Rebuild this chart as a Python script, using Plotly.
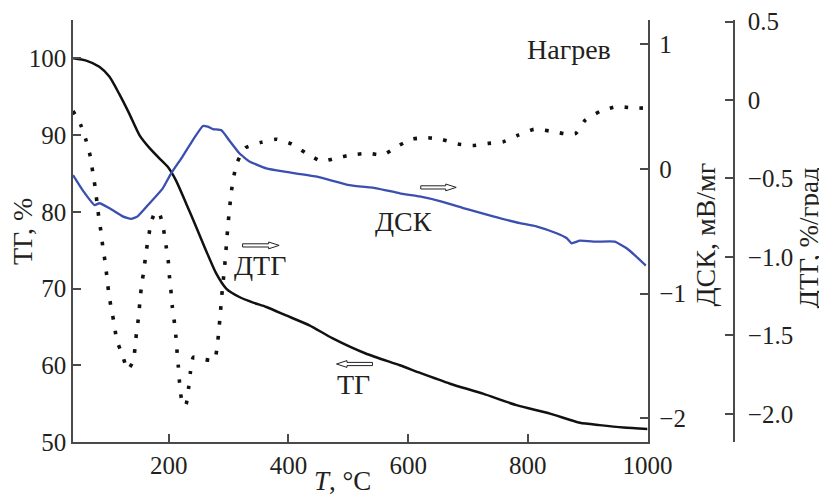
import plotly.graph_objects as go

# ---------------- data ----------------
tg_T = [40, 62, 84, 101, 117, 134, 151, 168, 184, 198, 212, 229, 246, 262, 279, 296,
        318, 340, 363, 396, 435, 474, 530, 586, 620, 670, 725, 781, 837, 887, 920, 960, 1000]
tg_val = [100.0, 99.7, 98.9, 97.6, 95.4, 92.8, 90.0, 88.3, 87.0, 85.9, 84.1, 81.1, 78.0, 75.0,
          72.0, 70.0, 68.9, 68.2, 67.6, 66.5, 65.2, 63.5, 61.5, 60.0, 59.0, 57.6, 56.3, 54.8,
          53.7, 52.5, 52.2, 51.9, 51.7]

dsc_T = [40, 56, 76, 84, 101, 123, 137, 148, 168, 190, 204, 223, 240, 257, 265, 274, 288,
         301, 318, 335, 363, 391, 446, 502, 547, 586, 619, 653, 697, 742, 787, 814, 848,
         865, 873, 887, 915, 945, 965, 993, 997]
dsc_val = [-0.05, -0.17, -0.29, -0.275, -0.315, -0.38, -0.40, -0.38, -0.275, -0.155, -0.035,
           0.10, 0.23, 0.345, 0.34, 0.32, 0.31, 0.23, 0.126, 0.06, 0.005, -0.02, -0.06, -0.13,
           -0.155, -0.195, -0.22, -0.257, -0.32, -0.38, -0.435, -0.46, -0.516, -0.556, -0.596,
           -0.575, -0.583, -0.583, -0.636, -0.756, -0.775]

dtg_T = [40, 53, 62, 69, 73, 77, 80, 83, 87, 90, 94, 97, 100, 104, 109, 113, 122, 131.5,
         141, 144, 146.5, 150, 152, 155, 159, 162, 166, 170.5, 178, 185, 191.5, 195.5, 199,
         201, 203.5, 206, 209.5, 212, 214, 216, 218, 221, 226, 229, 233, 236, 241, 255, 276,
         281, 283.6, 286, 288, 290.5, 293, 295, 297, 299, 301.5, 304, 308, 314, 328, 354,
         380, 405, 430, 455, 480, 505, 533, 558, 580, 605, 630, 655, 683, 708, 733, 759,
         784, 810, 837, 862, 880, 896, 922, 947, 973, 1000]
dtg_val = [-0.07, -0.16, -0.26, -0.36, -0.46, -0.556, -0.65, -0.745, -0.847, -0.943, -1.04,
           -1.14, -1.24, -1.33, -1.43, -1.53, -1.62, -1.72, -1.66, -1.56, -1.47, -1.37, -1.27,
           -1.17, -1.07, -0.97, -0.88, -0.78, -0.71, -0.73, -0.83, -0.93, -1.02, -1.12, -1.21,
           -1.32, -1.42, -1.51, -1.61, -1.70, -1.80, -1.90, -1.95, -1.94, -1.84, -1.74, -1.64,
           -1.65, -1.66, -1.57, -1.47, -1.37, -1.27, -1.17, -1.08, -0.985, -0.89, -0.79,
           -0.70, -0.60, -0.50, -0.40, -0.305, -0.27, -0.25, -0.28, -0.34, -0.39, -0.37,
           -0.35, -0.34, -0.35, -0.30, -0.25, -0.24, -0.25, -0.28, -0.29, -0.277, -0.266,
           -0.224, -0.187, -0.198, -0.215, -0.213, -0.128, -0.07, -0.043, -0.049, -0.053]

x_ticks = [200, 400, 600, 800, 1000]
tg_ticks = [50, 60, 70, 80, 90, 100]
dsc_ticks = [-2, -1, 0, 1]
dsc_ticktext = ["\u22122", "\u22121", "0", "1"]
dtg_ticks = [-2.0, -1.5, -1.0, -0.5, 0, 0.5]
dtg_ticktext = ["\u22122.0", "\u22121.5", "\u22121.0", "\u22120.5", "0", "0.5"]

# ---------------- layout geometry (page pixels; page body has an 8px offset) ----------------
OFF = 8
W, H = 827 - OFF, 497 - OFF
LEFT, RIGHT_DSC, RIGHT_DTG, TOP, BOTTOM = 73, 648, 734.5, 20, 442
ML = LEFT - OFF
MT = TOP - OFF
MR = W - (RIGHT_DTG - OFF)
MB = H - (BOTTOM - OFF)
PW, PH = W - ML - MR, H - MT - MB
XDOM = (RIGHT_DSC - LEFT) / PW

def px(x):
    return (x - LEFT) / PW

def py(y):
    return (BOTTOM - y) / PH

FONT = "Liberation Serif, Times New Roman, serif"
TXT = "#231f20"
AX = "#4a4a4a"

fig = go.Figure()
fig.add_trace(go.Scatter(x=tg_T, y=tg_val, mode="lines", yaxis="y",
                         line=dict(color="#111111", width=2.5, shape="spline", smoothing=0.6)))
fig.add_trace(go.Scatter(x=dsc_T, y=dsc_val, mode="lines", yaxis="y2",
                         line=dict(color="#3b4fb0", width=2.3, shape="spline", smoothing=0.4)))
fig.add_trace(go.Scatter(x=dtg_T, y=dtg_val, mode="lines", yaxis="y3",
                         line=dict(color="#111111", width=3.6, dash="3.6px,11.4px",
                                   shape="spline", smoothing=0.5)))

common = dict(showgrid=False, zeroline=False, showline=True, linecolor=AX, linewidth=1.6,
              ticks="inside", ticklen=8, tickwidth=1.5, tickcolor=AX, automargin=False,
              ticklabeloverflow="allow",
              tickfont=dict(family=FONT, size=25, color=TXT))

fig.update_layout(
    template="none",
    width=W, height=H, margin=dict(l=ML, r=MR, t=MT, b=MB, autoexpand=False),
    paper_bgcolor="white", plot_bgcolor="white", showlegend=False,
    xaxis=dict(domain=[0, XDOM], range=[40, 1000], tickvals=x_ticks, **common),
    yaxis=dict(range=[50, 105], tickvals=tg_ticks, **common),
    yaxis2=dict(overlaying="y", side="right", anchor="x", range=[-2.19, 1.195],
                tickvals=dsc_ticks, ticktext=dsc_ticktext, ticklabelstandoff=5, **common),
    yaxis3=dict(overlaying="y", side="right", anchor="free", position=1.0,
                range=[-2.18, 0.51], tickvals=dtg_ticks, ticktext=dtg_ticktext,
                ticklabelstandoff=8, **common),
)

def ann(text, x, y, angle=0, size=28):
    fig.add_annotation(text=text, x=px(x), y=py(y), xref="paper", yref="paper",
                       showarrow=False, textangle=angle, xanchor="center", yanchor="middle",
                       font=dict(family=FONT, size=size, color=TXT))

ann("ТГ, %", 22, 232, -90)
ann("ДСК, мВ/мг", 705, 235, -90)
ann("ДТГ, %/град", 810, 237, -90, 27)
ann("<i>T</i>, °C", 343, 481, 0, 27)
ann("Нагрев", 569, 50)
ann("ДСК", 404, 222)
ann("ДТГ", 260, 265)
ann("ТГ", 354, 384)

def arrow(x0, x1, yc, right=True):
    hs, hh, head = 1.6, 3.4, 10.5
    if right:
        pts = [(x0, yc - hs), (x1 - head, yc - hs), (x1 - head, yc - hh), (x1, yc),
               (x1 - head, yc + hh), (x1 - head, yc + hs), (x0, yc + hs)]
    else:
        pts = [(x1, yc - hs), (x0 + head, yc - hs), (x0 + head, yc - hh), (x0, yc),
               (x0 + head, yc + hh), (x0 + head, yc + hs), (x1, yc + hs)]
    path = "M " + " L ".join(f"{px(a):.5f},{py(b):.5f}" for a, b in pts) + " Z"
    fig.add_shape(type="path", path=path, xref="paper", yref="paper",
                  fillcolor="white", line=dict(color="#222222", width=1))

arrow(421, 456.5, 187.4, True)
arrow(242.7, 279.3, 245.4, True)
arrow(336.7, 372.7, 364, False)

fig.write_html("out.html")
